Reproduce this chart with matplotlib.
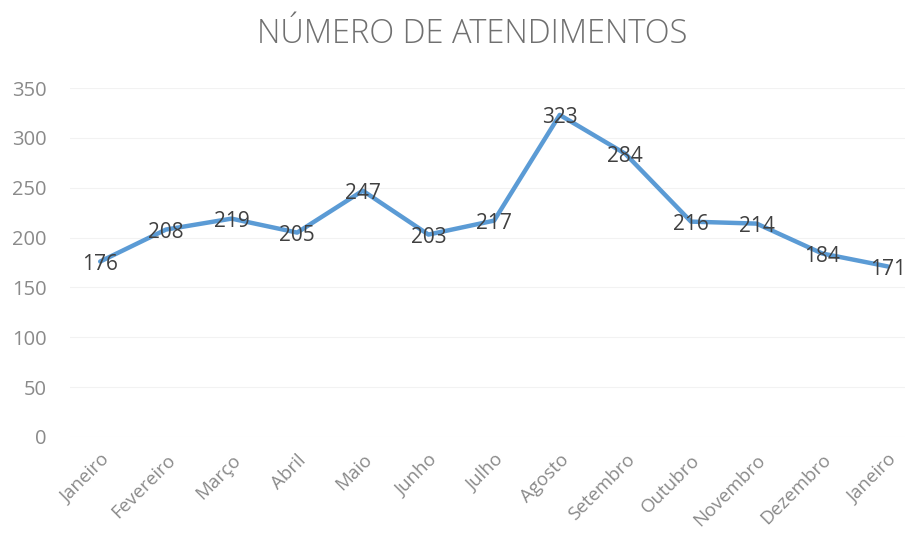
import matplotlib
matplotlib.use("Agg")
import matplotlib.pyplot as plt

# data
months = ["Janeiro", "Fevereiro", "Março", "Abril", "Maio", "Junho", "Julho",
          "Agosto", "Setembro", "Outubro", "Novembro", "Dezembro", "Janeiro"]
atendimentos = [176, 208, 219, 205, 247, 203, 217, 323, 284, 216, 214, 184, 171]
yticks = [0, 50, 100, 150, 200, 250, 300, 350]

plt.rcParams['font.family'] = ['Open Sans', 'DejaVu Sans']

fig = plt.figure(figsize=(9.13, 5.59), dpi=100)
ax = fig.add_axes([70 / 913, 1 - 437 / 559, 835 / 913, 349 / 559])

x = list(range(len(months)))
ax.plot(x, atendimentos, color='#5B9BD5', linewidth=3.2, solid_joinstyle='round',
        solid_capstyle='round', zorder=3)

# labels sit on the points, nudged a touch down
for xi, v in zip(x, atendimentos):
    ax.annotate(str(v), (xi, v), xytext=(0, -2), textcoords='offset points',
                ha='center', va='center', fontsize=15, color='#404040', zorder=4)

ax.set_xlim(-0.46, 12.26)
ax.set_ylim(0, 350)
ax.set_yticks(yticks)
ax.set_xticks(x)
ax.set_xticklabels(months, rotation=45, ha='right', rotation_mode='anchor')
ax.tick_params(axis='y', length=0, labelsize=14.5, colors='#8a8a8a', pad=17)
ax.tick_params(axis='x', length=0, labelsize=13.5, colors='#8a8a8a', pad=10)

ax.grid(axis='y', color='#f2f2f2', linewidth=0.8)
ax.set_axisbelow(True)
for s in ax.spines.values():
    s.set_visible(False)

fig.text(472 / 913, 1 - 34 / 559, "NÚMERO DE ATENDIMENTOS", ha='center', va='center',
         fontsize=23.5, color='#707070', fontweight='light')

fig.savefig("out.png", dpi=100)
